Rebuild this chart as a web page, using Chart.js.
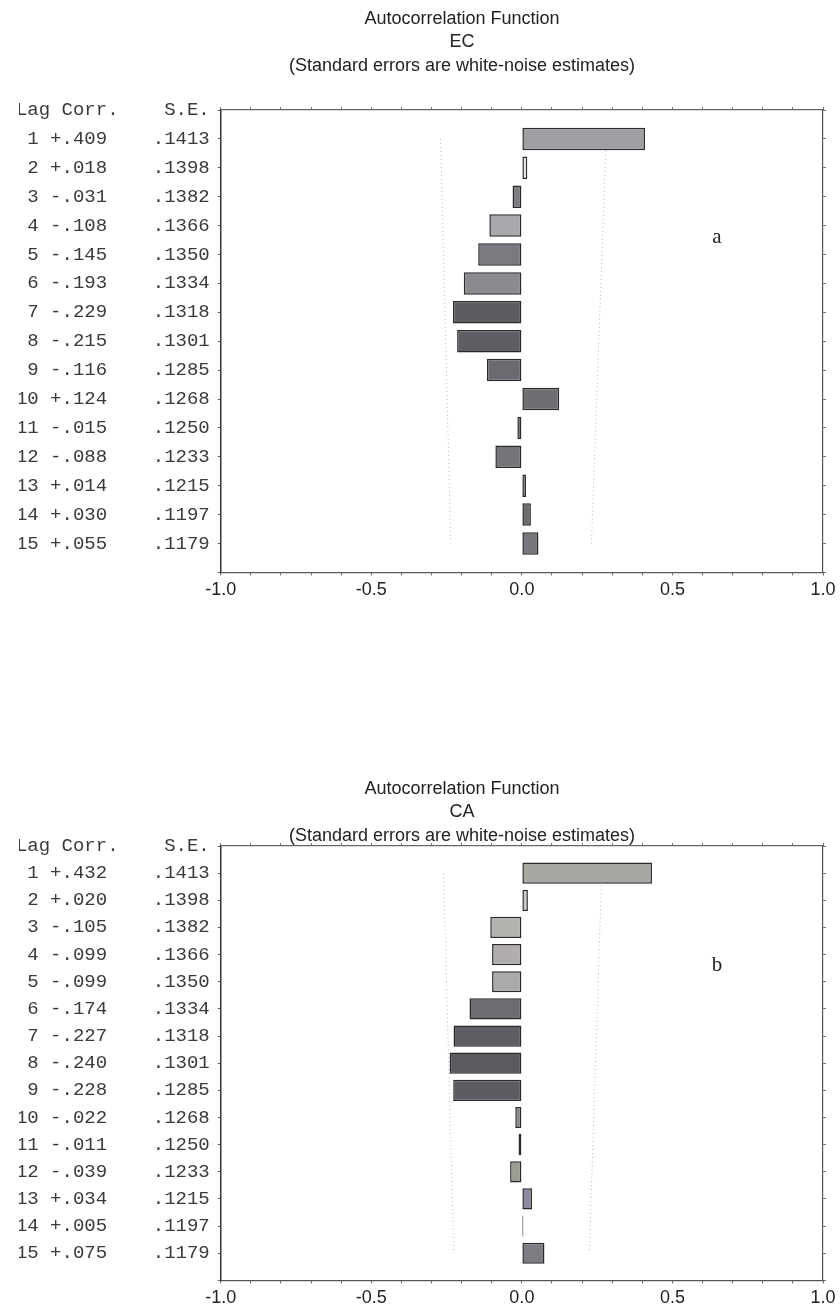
<!DOCTYPE html>
<html>
<head>
<meta charset="utf-8">
<script src="https://cdn.jsdelivr.net/npm/chart.js@4.4.1/dist/chart.umd.min.js"></script>
<style>
    body {margin: 0; background: #fff; width: 840px; height: 1315px; position: relative; overflow: hidden;}
    .box {position: absolute; left: 0; width: 840px;}
    #BoxEC {top: 0; height: 610px;}
    #BoxCA {top: 770px; height: 545px;}
</style>
</head>
<body>
<div class="box" id="BoxEC"><canvas id="ChartEC"></canvas></div>
<div class="box" id="BoxCA"><canvas id="ChartCA"></canvas></div>
<script>
// ---------------- DATA -------------------
const Lags = [1, 2, 3, 4, 5, 6, 7, 8, 9, 10, 11, 12, 13, 14, 15]
const CorrEC = [0.409, 0.018, -0.031, -0.108, -0.145, -0.193, -0.229, -0.215, -0.116, 0.124, -0.015, -0.088, 0.014, 0.030, 0.055]
const SeEC = [0.1413, 0.1398, 0.1382, 0.1366, 0.1350, 0.1334, 0.1318, 0.1301, 0.1285, 0.1268, 0.1250, 0.1233, 0.1215, 0.1197, 0.1179]
const CorrCA = [0.432, 0.020, -0.105, -0.099, -0.099, -0.174, -0.227, -0.240, -0.228, -0.022, -0.011, -0.039, 0.034, 0.005, 0.075]
const SeCA = [0.1413, 0.1398, 0.1382, 0.1366, 0.1350, 0.1334, 0.1318, 0.1301, 0.1285, 0.1268, 0.1250, 0.1233, 0.1215, 0.1197, 0.1179]
// dotted confidence limits, read at lag 1 and lag 15
const UpperEC = [0.280, 0.231]
const LowerEC = [-0.270, -0.236]
const UpperCA = [0.265, 0.224]
const LowerCA = [-0.260, -0.226]
const XTicks = [-1.0, -0.5, 0.0, 0.5, 1.0]
const Header = 'Lag Corr.    S.E.'

// ---------------- STYLES -------------------
const FillEC = ['#a09ea3', '#e6e6e8', '#7e7c80', '#aaa8ac', '#7c7a80', '#8c8a8e', '#5e5c62', '#605e64', '#6c6a70', '#706e72', '#6a6a6e', '#767478', '#707072', '#6e6c70', '#78767c']
const FillCA = ['#a8a8a2', '#c9c9cd', '#b2b2ae', '#b0acb0', '#aaaaac', '#6e6c72', '#605e64', '#5c5a5e', '#5e5c62', '#8a8a8c', '#79797b', '#9c9c92', '#8a8aa0', '#3a3a3c', '#7c7c82']
const Mono = '"Liberation Mono", "DejaVu Sans Mono", monospace'
const Sans = '"Liberation Sans", Arial, sans-serif'

Chart.defaults.font.family = Sans
Chart.defaults.color = '#222'

function RowLabels(Corr, Se) {
    const Rows = Lags.map((lag, i) => {
        const c = (Corr[i] >= 0 ? '+' : '-') + Math.abs(Corr[i]).toFixed(3).slice(1)
        const s = Se[i].toFixed(4).slice(1)
        return String(lag).padStart(2, ' ') + ' ' + c + '    ' + s
    })
    return [Header, ...Rows, '']
}

function Padded(Values) {// empty slot at top border and bottom border
    return [null, ...Values, null]
}

function LimitLine(Ends) {
    const Line = new Array(Lags.length + 2).fill(null)
    Line[1] = Ends[0]
    Line[Lags.length] = Ends[1]
    return Line
}

// draws the three title lines and the panel letter
const AcfText = {
    id: 'acfText',
    afterDraw(chart, args, opts) {
        const ctx = chart.ctx
        ctx.save()
        ctx.fillStyle = '#222'
        ctx.textAlign = 'center'
        ctx.textBaseline = 'middle'
        ctx.font = '18px ' + Sans
        opts.lines.forEach((line, i) => ctx.fillText(line, 462, opts.top + i * 23.5))
        ctx.font = '21px "Liberation Serif", serif'
        ctx.fillText(opts.tag, opts.tagX, opts.tagY)
        ctx.restore()
    }
}

function AcfChart(CanvasId, Name, Corr, Se, Upper, Lower, Fill, Padding, TagY) {
    const Labels = RowLabels(Corr, Se)
    const limitStyle = {
        type: 'line',
        borderColor: '#b4b4b4',
        borderWidth: 1,
        borderDash: [1, 3],
        pointRadius: 0,
        spanGaps: true,
        xAxisID: 'x',
        yAxisID: 'y'
    }
    new Chart(document.getElementById(CanvasId).getContext('2d'), {
        type: 'bar',
        data: {
            labels: Labels,
            datasets: [{
                label: Name,
                data: Padded(Corr),
                backgroundColor: Padded(Fill),
                borderColor: '#2a2a2a',
                borderWidth: 1.5,
                borderSkipped: false,
                barPercentage: 0.78,
                categoryPercentage: 1,
                xAxisID: 'x',
                yAxisID: 'y'
            },
            Object.assign({label: 'upper', data: LimitLine(Upper)}, limitStyle),
            Object.assign({label: 'lower', data: LimitLine(Lower)}, limitStyle)]
        },
        options: {
            indexAxis: 'y',
            responsive: true,
            maintainAspectRatio: false,
            animation: false,
            layout: {padding: Padding},
            plugins: {
                legend: {display: false},
                tooltip: {enabled: false},
                acfText: {
                    lines: ['Autocorrelation Function', Name, '(Standard errors are white-noise estimates)'],
                    top: 19,
                    tag: Name == 'EC' ? 'a' : 'b',
                    tagX: 717,
                    tagY: TagY
                }
            },
            scales: {
                x: {
                    type: 'linear',
                    position: 'bottom',
                    min: -1, max: 1,
                    grid: {drawOnChartArea: false, tickLength: 3, color: '#666'},
                    border: {color: '#555', width: 1.2},
                    ticks: {
                        stepSize: 0.1,
                        autoSkip: false,
                        maxRotation: 0,
                        padding: 4,
                        color: '#222',
                        font: {family: Sans, size: 18},
                        callback: v => {
                            const t = XTicks.find(t => Math.abs(t - v) < 1e-6)
                            return t === undefined ? '' : t.toFixed(1)
                        }
                    }
                },
                x2: {
                    type: 'linear',
                    position: 'top',
                    min: -1, max: 1,
                    grid: {drawOnChartArea: false, tickLength: 3, color: '#777'},
                    border: {color: '#6a6470', width: 1.2},
                    ticks: {display: false, stepSize: 0.1}
                },
                y: {
                    type: 'category',
                    position: 'left',
                    offset: false,
                    grid: {drawOnChartArea: false, offset: false, tickLength: 3, color: '#666'},
                    border: {color: '#333', width: 1.5},
                    ticks: {
                        autoSkip: false,
                        padding: 8,
                        color: '#3a3a3a',
                        font: {family: Mono, size: 19}
                    }
                },
                y2: {
                    type: 'category',
                    position: 'right',
                    labels: Labels,
                    offset: false,
                    grid: {drawOnChartArea: false, offset: false, tickLength: 3, color: '#777'},
                    border: {color: '#555', width: 1.2},
                    ticks: {display: false, autoSkip: false}
                }
            }
        },
        plugins: [AcfText]
    })
}

// ---------------- CREATE CHARTS -------------------
AcfChart('ChartEC', 'EC', CorrEC, SeEC, UpperEC, LowerEC, FillEC, {top: 107, left: 19, right: 14, bottom: 5}, 237)
AcfChart('ChartCA', 'CA', CorrCA, SeCA, UpperCA, LowerCA, FillCA, {top: 73, left: 19, right: 14, bottom: 2}, 195)
</script>
</body>
</html>
